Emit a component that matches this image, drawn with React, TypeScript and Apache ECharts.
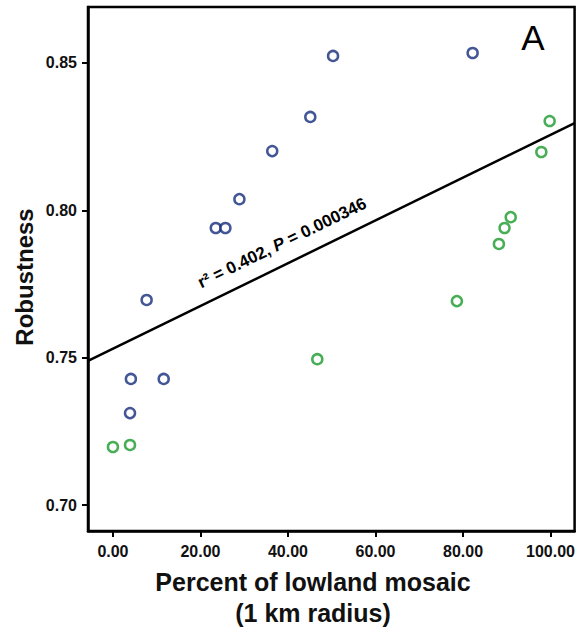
import React, { useEffect, useRef } from "react";
import * as echarts from "echarts";

const blueX = [50.3, 82.2, 45.1, 36.4, 28.9, 23.5, 25.7, 7.7, 4.1, 11.6, 3.9];
const blueY = [0.8524, 0.8534, 0.8317, 0.8201, 0.8038, 0.794, 0.794, 0.7696, 0.7428, 0.7428, 0.7312];
const greenX = [99.8, 97.9, 90.9, 89.5, 88.2, 78.6, 46.7, 0.0, 3.9];
const greenY = [0.8303, 0.8198, 0.7977, 0.794, 0.7886, 0.7692, 0.7495, 0.7197, 0.7204];
const fitX = [-5.7, 105.5];
const fitY = [0.7489, 0.8296];
const xTicks = [0, 20, 40, 60, 80, 100];
const yTicks = [0.7, 0.75, 0.8, 0.85];

const FONT = "'Liberation Sans', Arial, sans-serif";

export default function App() {
  const ref = useRef<HTMLDivElement>(null);
  useEffect(() => {
    if (!ref.current) return;
    const chart = echarts.init(ref.current, null, { renderer: "svg" });
    const blue = blueX.map((x, i) => [x, blueY[i]]);
    const green = greenX.map((x, i) => [x, greenY[i]]);
    const fit = fitX.map((x, i) => [x, fitY[i]]);
    chart.setOption({
      animation: false,
      backgroundColor: "#fff",
      grid: {
        left: 88,
        top: 7,
        right: 2,
        bottom: 102,
        show: true,
        borderColor: "#000",
        borderWidth: 2.5,
        backgroundColor: "#fff",
      },
      xAxis: {
        type: "value",
        min: -5.7,
        max: 105.5,
        splitLine: { show: false },
        axisLine: { show: true, onZero: false, lineStyle: { color: "#000", width: 2.5 } },
        axisTick: { show: true, length: 6, customValues: xTicks, lineStyle: { color: "#000", width: 2 } },
        axisLabel: {
          customValues: xTicks,
          formatter: (v: number) => v.toFixed(2),
          fontFamily: FONT,
          fontWeight: "bold",
          fontSize: 16,
          color: "#111",
          margin: 12,
        },
      },
      yAxis: {
        type: "value",
        min: 0.6912,
        max: 0.869,
        splitLine: { show: false },
        axisLine: { show: true, onZero: false, lineStyle: { color: "#000", width: 2.5 } },
        axisTick: { show: true, length: 6, customValues: yTicks, lineStyle: { color: "#000", width: 2 } },
        axisLabel: {
          customValues: yTicks,
          formatter: (v: number) => v.toFixed(2),
          fontFamily: FONT,
          fontWeight: "bold",
          fontSize: 16,
          color: "#111",
          margin: 11,
        },
      },
      series: [
        {
          type: "line",
          data: fit,
          symbol: "none",
          lineStyle: { color: "#000", width: 2.5 },
          z: 1,
        },
        {
          type: "scatter",
          data: blue,
          symbol: "circle",
          symbolSize: 10,
          itemStyle: { color: "#fff", borderColor: "#142c7a", borderWidth: 2.5 },
          z: 3,
        },
        {
          type: "scatter",
          data: green,
          symbol: "circle",
          symbolSize: 10,
          itemStyle: { color: "#fff", borderColor: "#1a9a2c", borderWidth: 2.5 },
          z: 3,
        },
      ],
      graphic: [
        {
          type: "text",
          x: 24,
          y: 277,
          rotation: Math.PI / 2,
          style: {
            text: "Robustness",
            fontFamily: FONT,
            fontWeight: "bold",
            fontSize: 24,
            fill: "#111",
            align: "center",
            verticalAlign: "middle",
          },
        },
        {
          type: "text",
          x: 313,
          y: 582,
          style: {
            text: "Percent of lowland mosaic",
            fontFamily: FONT,
            fontWeight: "bold",
            fontSize: 25,
            fill: "#111",
            align: "center",
            verticalAlign: "middle",
          },
        },
        {
          type: "text",
          x: 313,
          y: 613,
          style: {
            text: "(1 km radius)",
            fontFamily: FONT,
            fontWeight: "bold",
            fontSize: 25,
            fill: "#111",
            align: "center",
            verticalAlign: "middle",
          },
        },
        {
          type: "text",
          x: 533,
          y: 37,
          style: {
            text: "A",
            fontFamily: FONT,
            fontSize: 35,
            fill: "#000",
            align: "center",
            verticalAlign: "middle",
          },
        },
        {
          type: "text",
          x: 282,
          y: 243,
          rotation: (26 * Math.PI) / 180,
          style: {
            text: "{a|r² = 0.402, }{p|P}{a| = 0.000346}",
            align: "center",
            verticalAlign: "middle",
            rich: {
              a: { fontFamily: FONT, fontWeight: "bold", fontSize: 17, fill: "#000" },
              p: { fontFamily: FONT, fontWeight: "bold", fontStyle: "italic", fontSize: 17, fill: "#000" },
            },
          },
        },
      ],
    });
    return () => chart.dispose();
  }, []);
  return (
    <div
      ref={ref}
      style={{ position: "absolute", left: 0, top: 0, width: 578, height: 633 }}
    />
  );
}
